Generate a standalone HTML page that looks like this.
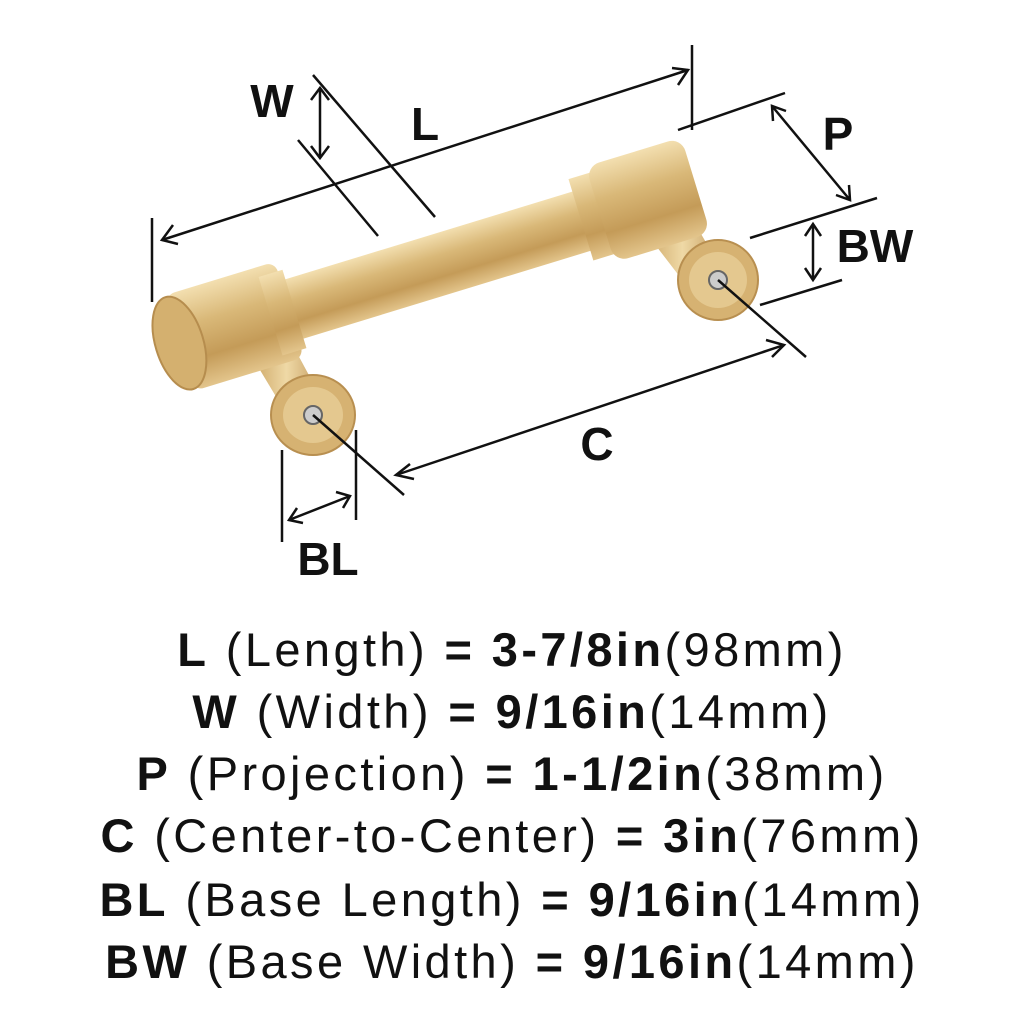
<!DOCTYPE html>
<html><head><meta charset="utf-8"><style>
html,body{margin:0;padding:0;background:#fff;}
body{width:1024px;height:1024px;position:relative;overflow:hidden;font-family:"Liberation Sans",sans-serif;color:#111;}
.t{position:absolute;left:0;width:1024px;text-align:center;font-size:47px;letter-spacing:3.4px;line-height:50px;white-space:nowrap;}
.t b{font-weight:bold;}
</style></head><body>
<svg width="1024" height="1024" style="position:absolute;left:0;top:0">
<defs>
<linearGradient id="g" x1="0" y1="0" x2="0" y2="1">
<stop offset="0" stop-color="#f3dfb0"/><stop offset="0.35" stop-color="#d9b878"/><stop offset="0.7" stop-color="#c49b58"/><stop offset="1" stop-color="#e3c58c"/></linearGradient>
<linearGradient id="g2" x1="0" y1="0" x2="1" y2="0">
<stop offset="0" stop-color="#c9a05e"/><stop offset="0.5" stop-color="#efd9a6"/><stop offset="1" stop-color="#c09658"/></linearGradient>
</defs>
<g>
<path d="M248 350 L290 340 L325 405 L290 420 Z" fill="url(#g2)"/>
<ellipse cx="313" cy="415" rx="42" ry="40" fill="#d6b272" stroke="#b88f50" stroke-width="2"/>
<ellipse cx="313" cy="415" rx="30" ry="28" fill="#e4c88f"/>
<circle cx="313" cy="415" r="9" fill="#ccc" stroke="#666" stroke-width="2"/>
<path d="M640 225 L690 215 L725 275 L690 290 Z" fill="url(#g2)"/>
<ellipse cx="718" cy="280" rx="40" ry="40" fill="#d6b272" stroke="#b88f50" stroke-width="2"/>
<ellipse cx="718" cy="280" rx="29" ry="28" fill="#e4c88f"/>
<circle cx="718" cy="280" r="9" fill="#ccc" stroke="#666" stroke-width="2"/>
</g>
<g transform="translate(180,345) rotate(-17)">
<rect x="100" y="-32" width="340" height="62" fill="url(#g)"/>
<rect x="0" y="-52" width="115" height="100" rx="10" fill="url(#g)"/>
<rect x="95" y="-42" width="25" height="82" fill="url(#g)"/>
<rect x="420" y="-45" width="25" height="85" fill="url(#g)"/>
<rect x="440" y="-52" width="100" height="100" rx="14" fill="url(#g)"/>
<ellipse cx="0" cy="-2" rx="24" ry="48" fill="#d4b06f" stroke="#b68d4e" stroke-width="2"/>
</g>
<g stroke="#111" stroke-width="2.5" fill="none">
<line x1="152" y1="218" x2="152" y2="302"/>
<line x1="692" y1="45" x2="692" y2="130"/>
<line x1="162" y1="240" x2="688" y2="70"/>
<line x1="313" y1="75" x2="435" y2="217"/>
<line x1="298" y1="140" x2="378" y2="236"/>
<line x1="320" y1="88" x2="320" y2="158"/>
<line x1="678" y1="130" x2="785" y2="93"/>
<line x1="750" y1="238" x2="877" y2="198"/>
<line x1="760" y1="305" x2="842" y2="280"/>
<line x1="772" y1="106" x2="850" y2="200"/>
<line x1="813" y1="224" x2="813" y2="280"/>
<line x1="718" y1="280" x2="806" y2="357"/>
<line x1="313" y1="415" x2="404" y2="495"/>
<line x1="396" y1="475" x2="784" y2="345"/>
<line x1="282" y1="450" x2="282" y2="542"/>
<line x1="356" y1="430" x2="356" y2="520"/>
<line x1="289" y1="520" x2="350" y2="496"/>
</g>
<g stroke="#111" stroke-width="2.5" fill="none">
<path d="M173 225 L162 240 L178 244"/>
<path d="M672 68 L688 70 L678 85"/>
<path d="M311 100 L320 88 L329 100"/>
<path d="M311 146 L320 158 L329 146"/>
<path d="M773 121 L772 106 L786 111"/>
<path d="M849 185 L850 200 L836 195"/>
<path d="M805 236 L813 224 L821 236"/>
<path d="M805 268 L813 280 L821 268"/>
<path d="M410 464 L396 475 L414 479"/>
<path d="M766 340 L784 345 L772 357"/>
<path d="M297 508 L289 520 L303 523"/>
<path d="M336 492 L350 496 L343 508"/>
</g>
<g font-family="Liberation Sans,sans-serif" font-weight="bold" font-size="46" fill="#111" text-anchor="middle">
<text x="272" y="117">W</text>
<text x="425" y="140">L</text>
<text x="838" y="150">P</text>
<text x="875" y="262">BW</text>
<text x="597" y="460">C</text>
<text x="328" y="575">BL</text>
</g>
</svg>
<div class="t" style="top:625px"><b>L</b> (Length) <b>= 3-7/8in</b>(98mm)</div>
<div class="t" style="top:687px"><b>W</b> (Width) <b>= 9/16in</b>(14mm)</div>
<div class="t" style="top:749px"><b>P</b> (Projection) <b>= 1-1/2in</b>(38mm)</div>
<div class="t" style="top:811px"><b>C</b> (Center-to-Center) <b>= 3in</b>(76mm)</div>
<div class="t" style="top:875px"><b>BL</b> (Base Length) <b>= 9/16in</b>(14mm)</div>
<div class="t" style="top:937px"><b>BW</b> (Base Width) <b>= 9/16in</b>(14mm)</div>
</body></html>
